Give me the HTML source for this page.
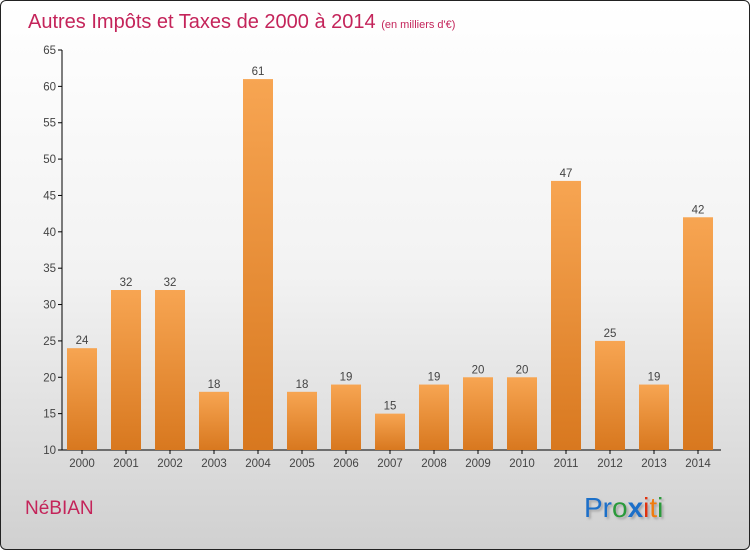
<!DOCTYPE html>
<html><head><meta charset="utf-8"><style>
body{margin:0}
#c{position:relative;width:748px;height:548px;border:1px solid #222;border-radius:6px;overflow:hidden;background:linear-gradient(#ffffff 0%,#f2f2f2 50%,#d0d0d0 100%);font-family:"Liberation Sans",sans-serif}
</style></head><body>
<div id="c">
<svg id="s" width="748" height="548">
<defs><linearGradient id="g" x1="0" y1="0" x2="0" y2="1"><stop offset="0" stop-color="#f7a552"/><stop offset="1" stop-color="#d8781f"/></linearGradient>
<filter id="sh"><feDropShadow dx="2" dy="2" stdDeviation="1" flood-color="#888" flood-opacity="0.6"/></filter></defs>
<text x="27" y="27" font-size="20" fill="#c4245a">Autres Impôts et Taxes de 2000 à 2014 <tspan font-size="11">(en milliers d'€)</tspan></text>
<text x="24" y="513" font-size="19" fill="#c4245a">NéBIAN</text>
<text x="583" y="516" font-size="28" filter="url(#sh)"><tspan fill="#1a6fc9">Pr</tspan><tspan fill="#2a9a3a">o</tspan><tspan fill="#1a6fc9" font-weight="bold">x</tspan><tspan fill="#e03010">i</tspan><tspan fill="#f07c10">t</tspan><tspan fill="#2a9a3a">i</tspan></text>
<g id="plot"></g>
</svg></div>
<script>
const years=["2000","2001","2002","2003","2004","2005","2006","2007","2008","2009","2010","2011","2012","2013","2014"];
const values=[24,32,32,18,61,18,19,15,19,20,20,47,25,19,42];
const ticks=[10,15,20,25,30,35,40,45,50,55,60,65];
const ns="http://www.w3.org/2000/svg";
const g=document.getElementById('plot');
const y=v=>449-(v-10)*(400/55);
const x=i=>81+i*44;
function mk(t,a,p){const e=document.createElementNS(ns,t);for(const k in a)e.setAttribute(k,a[k]);(p||g).appendChild(e);return e;}
let ax=mk('line',{x1:61,y1:49,x2:61,y2:449,stroke:'#000'});


let bx=mk('line',{x1:61,y1:449,x2:720,y2:449,stroke:'#000'});


ticks.forEach(t=>{
 let l=mk('line',{x1:57,y1:y(t),x2:61,y2:y(t),stroke:'#000'});
 
 
 let tx=mk('text',{x:55,y:y(t)+4,'font-size':11.5,fill:'#444','text-anchor':'end'});
 tx.textContent=t;
 
 
});
values.forEach((v,i)=>{
 let r=mk('rect',{x:x(i)-15,y:y(v),width:30,height:449-y(v),fill:'url(#g)'});
 
 
 let lt=mk('text',{x:x(i),y:y(v)-4,'font-size':11.5,fill:'#444','text-anchor':'middle'});
 lt.textContent=v;
 
 
 let tk=mk('line',{x1:x(i),y1:449,x2:x(i),y2:453,stroke:'#000'});
 
 
 let xl=mk('text',{x:x(i),y:466,'font-size':11.5,fill:'#444','text-anchor':'middle'});
 xl.textContent=years[i];
 
 
});
</script>
</body></html>
